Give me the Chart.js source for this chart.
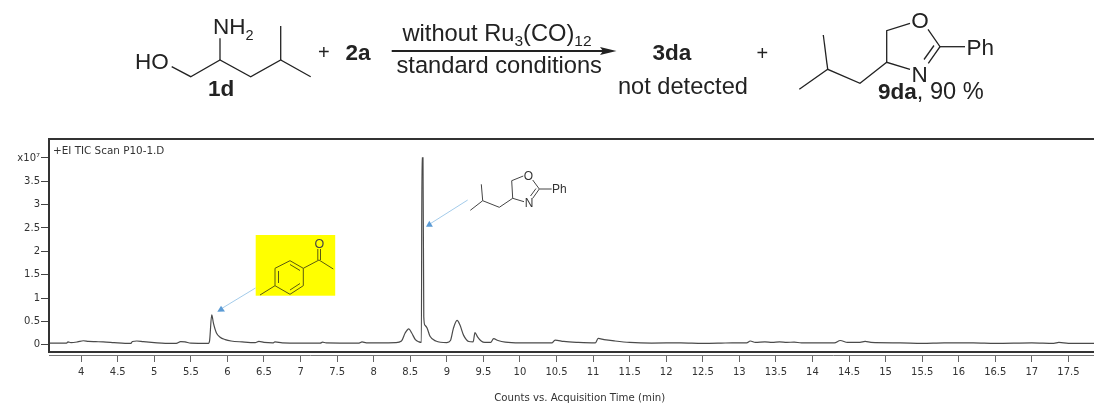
<!DOCTYPE html>
<html><head><meta charset="utf-8">
<style>
html,body{margin:0;padding:0;background:#fff;overflow:hidden}
#wrap{position:relative;width:1094px;height:405px}
canvas{position:absolute;left:0;top:0;filter:blur(0.35px)}
svg{position:absolute;left:0;top:0;pointer-events:none;filter:blur(0.3px)}
.a{font-family:"Liberation Sans",Arial,sans-serif;fill:#222}
.b{stroke:#222;stroke-width:1.3;fill:none}
.s{stroke:#444;stroke-width:1;fill:none}
.k{stroke:#5a5a10;stroke-width:1;fill:none}
.t{font-family:"DejaVu Sans",sans-serif;fill:#333}
</style>
<script src="https://cdn.jsdelivr.net/npm/chart.js@4"></script>
</head><body>
<div id="wrap">
<canvas id="c" width="1094" height="405"></canvas>
<svg width="1094" height="405" viewBox="0 0 1094 405">
  <!-- reaction scheme -->
  <polyline class="b" points="171.7,66.7 190.7,76.7 220,60 250.7,76.7 280.7,60 310.7,76.7"/>
  <line class="b" x1="280.7" y1="60" x2="280.7" y2="26"/>
  <line class="b" x1="220" y1="60" x2="220" y2="38.3"/>
  <text class="a" x="135" y="68.5" font-size="22.5">HO</text>
  <text class="a" x="213" y="33.5" font-size="22.5">NH<tspan font-size="14.5" dy="6">2</tspan></text>
  <text class="a" x="208" y="96" font-size="22.5" font-weight="bold">1d</text>
  <text class="a" x="318" y="59" font-size="20">+</text>
  <text class="a" x="345.5" y="59.5" font-size="22.5" font-weight="bold">2a</text>
  <text class="a" x="402.5" y="41" font-size="23.7">without Ru<tspan font-size="15.5" dy="5">3</tspan><tspan dy="-5">(CO)</tspan><tspan font-size="15.5" dy="5">12</tspan></text>
  <line x1="391.7" y1="51" x2="604" y2="51" stroke="#222" stroke-width="2"/>
  <polygon points="616.5,51 600,47 603,51 600,55" fill="#222"/>
  <text class="a" x="396.5" y="72.5" font-size="23.7">standard conditions</text>
  <text class="a" x="652.5" y="60" font-size="22.5" font-weight="bold">3da</text>
  <text class="a" x="618" y="94" font-size="23.6">not detected</text>
  <text class="a" x="756.5" y="60" font-size="20">+</text>
  <polyline class="b" points="799.3,89.3 827.7,69.3 860,83.3 886.7,62.3 910,69.3"/>
  <line class="b" x1="827.7" y1="69.3" x2="823.3" y2="35"/>
  <polyline class="b" points="886.7,62.3 886.7,30.7 910,23.3"/>
  <polyline class="b" points="928,29.3 940,46.7 928.3,63.3"/>
  <line class="b" x1="934" y1="45.5" x2="924" y2="59.5"/>
  <line class="b" x1="940" y1="46.7" x2="965" y2="46.7"/>
  <text class="a" x="920" y="27.5" font-size="22.5" text-anchor="middle">O</text>
  <text class="a" x="919.5" y="82" font-size="22.5" text-anchor="middle">N</text>
  <text class="a" x="966.5" y="55" font-size="22.5">Ph</text>
  <text class="a" x="878" y="98.5" font-size="23.6"><tspan font-weight="bold" font-size="22.5">9da</tspan>, 90 %</text>

  <!-- chromatogram annotations -->
  <text class="t" x="53" y="154" style="font-size:10.4px">+EI TIC Scan P10-1.D</text>
  <text class="t" x="579.7" y="401" text-anchor="middle" style="font-size:10.2px">Counts vs. Acquisition Time (min)</text>

  <rect x="255.7" y="235" width="79.5" height="60.7" fill="#ffff00"/>
  <polygon class="k" points="290,260.7 303.3,268.3 303.3,285.7 290,294.3 275,285.7 275,268.3"/>
  <line class="k" x1="290" y1="264.5" x2="300" y2="270.5"/>
  <line class="k" x1="300" y1="283.5" x2="290" y2="290"/>
  <line class="k" x1="278.5" y1="283" x2="278.5" y2="271"/>
  <line class="k" x1="275" y1="285.7" x2="260" y2="295"/>
  <polyline class="k" points="303.3,268.3 319,260 333.3,269"/>
  <line class="k" x1="317.8" y1="260" x2="317.8" y2="249"/>
  <line class="k" x1="320.5" y1="260" x2="320.5" y2="249"/>
  <text class="a" x="319.3" y="248" font-size="12.5" text-anchor="middle" style="fill:#444">O</text>
  <line x1="255.5" y1="288" x2="220" y2="309.5" stroke="#a3cbea" stroke-width="1"/>
  <polygon points="217.3,311.8 221,305.8 225,311.5" fill="#5b9bd5"/>

  <polyline class="s" points="470.3,210.3 482.7,200.7 499.3,207.3 512.7,198.3 524,201.7"/>
  <line class="s" x1="482.7" y1="200.7" x2="481.3" y2="184.3"/>
  <polyline class="s" points="512.7,198.3 511.7,180.7 523.3,176"/>
  <polyline class="s" points="532.7,180 539.3,189 532.7,198.3"/>
  <line class="s" x1="536" y1="188.5" x2="530.5" y2="196"/>
  <line class="s" x1="539.3" y1="189" x2="551.7" y2="189"/>
  <text class="a" x="528.3" y="179.5" font-size="12" text-anchor="middle" style="fill:#333">O</text>
  <text class="a" x="529" y="206.7" font-size="12" text-anchor="middle" style="fill:#333">N</text>
  <text class="a" x="552" y="193" font-size="12" style="fill:#333">Ph</text>
  <line x1="467.7" y1="200" x2="429" y2="224.5" stroke="#a3cbea" stroke-width="1"/>
  <polygon points="426,226.8 429.3,220.7 432.9,226.8" fill="#5b9bd5"/>
</svg>
</div>
<script>
const times = [3.56,3.8,3.82,3.86,3.95,4.03,4.1,4.2,4.3,4.45,4.6,4.68,4.7,4.76,4.85,5.0,5.15,5.3,5.36,5.42,5.5,5.74,5.757,5.785,5.81,5.85,5.9,5.97,6.05,6.2,6.38,6.43,6.5,6.62,6.65,6.75,7.0,7.27,7.3,7.35,7.8,7.84,7.9,8.1,8.3,8.38,8.43,8.48,8.52,8.57,8.62,8.652,8.66,8.674,8.685,8.7,8.73,8.77,8.85,9.0,9.05,9.09,9.14,9.18,9.23,9.3,9.36,9.385,9.42,9.47,9.52,9.6,9.64,9.7,9.8,10.0,10.3,10.44,10.48,10.6,10.8,11.03,11.07,11.15,11.3,11.5,11.8,12.2,12.5,12.75,12.9,13.1,13.15,13.22,13.35,13.45,13.55,13.65,13.75,13.85,14.3,14.38,14.48,14.65,14.72,14.8,15.2,15.5,15.8,16.2,16.5,17.0,17.3,17.37,17.5,17.85];
const counts = [0.035,0.035,0.06,0.045,0.06,0.085,0.07,0.065,0.06,0.045,0.03,0.03,0.07,0.08,0.065,0.045,0.03,0.03,0.065,0.06,0.035,0.03,0.1,0.64,0.45,0.25,0.16,0.11,0.08,0.06,0.045,0.07,0.05,0.04,0.06,0.04,0.035,0.035,0.055,0.04,0.035,0.06,0.04,0.04,0.045,0.08,0.25,0.34,0.25,0.11,0.06,0.05,4.0,4.0,0.6,0.42,0.36,0.18,0.08,0.045,0.09,0.35,0.52,0.42,0.2,0.07,0.06,0.26,0.17,0.08,0.05,0.05,0.13,0.09,0.055,0.04,0.04,0.04,0.1,0.07,0.05,0.04,0.135,0.11,0.08,0.05,0.035,0.04,0.03,0.035,0.04,0.04,0.08,0.05,0.06,0.05,0.06,0.05,0.055,0.04,0.04,0.09,0.05,0.05,0.07,0.05,0.04,0.03,0.04,0.04,0.03,0.04,0.03,0.05,0.03,0.03];
const xTickValues = [4,4.5,5,5.5,6,6.5,7,7.5,8,8.5,9,9.5,10,10.5,11,11.5,12,12.5,13,13.5,14,14.5,15,15.5,16,16.5,17,17.5];
const xTickLabels = ['4','4.5','5','5.5','6','6.5','7','7.5','8','8.5','9','9.5','10','10.5','11','11.5','12','12.5','13','13.5','14','14.5','15','15.5','16','16.5','17','17.5'];
const yTickValues = [0,0.5,1,1.5,2,2.5,3,3.5,4];
const yTickLabels = ['0','0.5','1','1.5','2','2.5','3','3.5','x10⁷'];
const font = {family:'"DejaVu Sans",sans-serif', size:10};
const frame = {
  id:'frame',
  afterDatasetsDraw(ch){
    const {ctx, chartArea:a, scales:{y}} = ch;
    const b = Math.round(y.getPixelForValue(-0.16));
    ctx.save();
    ctx.strokeStyle='#333'; ctx.lineWidth=2;
    ctx.beginPath();
    ctx.moveTo(a.right+2,a.top); ctx.lineTo(a.left,a.top); ctx.lineTo(a.left,b); ctx.lineTo(a.right+2,b);
    ctx.stroke();
    ctx.restore();
  }
};
new Chart(document.getElementById('c'),{
  type:'line',
  data:{datasets:[{data:times.map((t,i)=>({x:t,y:counts[i]})),borderColor:'#4a4a4a',borderWidth:1.2,pointRadius:0,cubicInterpolationMode:'monotone',fill:false}]},
  plugins:[frame],
  options:{
    responsive:false,animation:false,
    layout:{padding:{left:0,top:139,right:0,bottom:0}},
    plugins:{legend:{display:false},title:{display:false},tooltip:{enabled:false}},
    scales:{
      x:{type:'linear',min:3.56,max:17.85,
        afterBuildTicks(s){s.ticks=xTickValues.map(v=>({value:v}));},
        afterFit(s){s.height=50;s.paddingLeft=0;s.paddingRight=0;},
        grid:{display:true,drawOnChartArea:false,drawTicks:true,tickLength:7,color:'#666',lineWidth:1},
        border:{display:true,color:'#777',width:1},
        ticks:{autoSkip:false,maxRotation:0,minRotation:0,padding:4,color:'#333',font,callback:(v,i)=>xTickLabels[i]}},
      y:{type:'linear',min:-0.22,max:4.405,
        afterBuildTicks(s){s.ticks=yTickValues.map(v=>({value:v}));},
        afterFit(s){s.width=49;s.paddingTop=0;s.paddingBottom=0;},
        grid:{display:true,drawOnChartArea:false,drawTicks:true,tickLength:8,color:'#444',lineWidth:1},
        border:{display:false},
        ticks:{autoSkip:false,padding:1,color:'#333',font,callback:(v,i)=>yTickLabels[i]}}
    }
  }
});
</script>
</body></html>
